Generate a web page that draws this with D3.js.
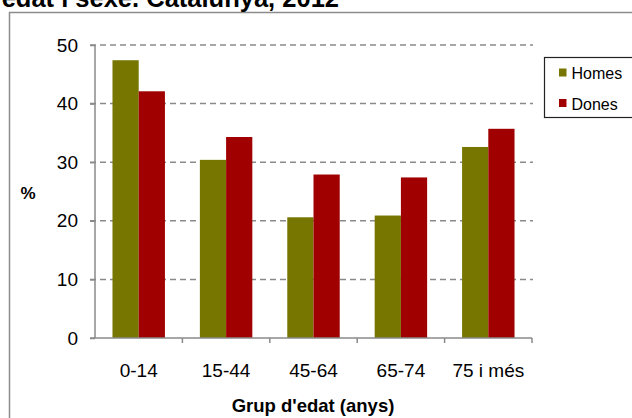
<!DOCTYPE html>
<html>
<head>
<meta charset="utf-8">
<script src="https://cdn.jsdelivr.net/npm/d3@7"></script>
<style>
  html, body { margin: 0; padding: 0; background: #fff; }
  svg { display: block; font-family: "Liberation Sans", Arial, sans-serif; }
</style>
</head>
<body>
<svg id="chart" width="632" height="418"></svg>
<script>
// Age groups and percentage by sex
const groups = ["0-14", "15-44", "45-64", "65-74", "75 i més"];
const homes = [47.4, 30.4, 20.6, 20.9, 32.6];
const dones = [42.1, 34.3, 27.9, 27.4, 35.7];
const seriesNames = ["Homes", "Dones"];
const seriesColors = ["#767600", "#a00000"];
const yTicks = [0, 10, 20, 30, 40, 50];

const rows = groups.map((g, i) => ({ group: g, values: [homes[i], dones[i]] }));

const FONT = "Liberation Sans, Arial, sans-serif";
const svg = d3.select("#chart");
const margin = { left: 95, top: 45 };
const plotW = 532 - margin.left;
const plotH = 338 - margin.top;

// Outer frame
svg.append("rect")
  .attr("x", 9.5).attr("y", 12.5)
  .attr("width", 640).attr("height", 420)
  .attr("fill", "none").attr("stroke", "#8c8c8c").attr("stroke-width", 1.5);

// Title (runs past the top-left edge)
svg.append("text")
  .attr("x", 339).attr("y", 7)
  .attr("text-anchor", "end")
  .attr("font-size", 25.5).attr("font-weight", "bold").attr("fill", "#000")
  .text("edat i sexe. Catalunya, 2012");

const g = svg.append("g").attr("transform", `translate(${margin.left},${margin.top})`);

const x0 = d3.scaleBand().domain(groups).range([0, plotW]).paddingInner(0.4).paddingOuter(0.2);
const x1 = d3.scaleBand().domain(seriesNames).range([0, x0.bandwidth()]);
const xAxisScale = d3.scaleBand().domain(groups).range([0, plotW]);
const y = d3.scaleLinear().domain([0, 50]).range([plotH, 0]);

// Gridlines
g.append("g").selectAll("line")
  .data(yTicks.filter(d => d > 0))
  .join("line")
  .attr("x1", -5).attr("x2", plotW + 1)
  .attr("y1", d => y(d)).attr("y2", d => y(d))
  .attr("stroke", "#8a8a8a").attr("stroke-width", 1.5)
  .attr("stroke-dasharray", "6,4");

// Bars
const grp = g.append("g").selectAll("g")
  .data(rows)
  .join("g")
  .attr("transform", d => `translate(${x0(d.group)},0)`);

grp.selectAll("rect")
  .data(d => d.values.map((v, i) => ({ name: seriesNames[i], v, c: seriesColors[i] })))
  .join("rect")
  .attr("x", d => x1(d.name))
  .attr("y", d => y(d.v))
  .attr("width", x1.bandwidth())
  .attr("height", d => y(0) - y(d.v))
  .attr("fill", d => d.c);

// Y axis
const yAxis = g.append("g")
  .call(d3.axisLeft(y).tickValues(yTicks).tickSize(5).tickPadding(12).tickFormat(d3.format("d")));
yAxis.select(".domain").attr("stroke", "#8a8a8a").attr("stroke-width", 1.5).attr("d", `M0,${plotH}V0`);
yAxis.selectAll(".tick line").attr("stroke", "#8a8a8a").attr("stroke-width", 1.5);
yAxis.selectAll(".tick text").attr("font-size", 19).attr("fill", "#000").attr("font-family", FONT);

// X axis
const xAxis = g.append("g")
  .attr("transform", `translate(0,${plotH})`)
  .call(d3.axisBottom(xAxisScale).tickSize(0).tickPadding(25.5));
xAxis.select(".domain").attr("stroke", "#8a8a8a").attr("stroke-width", 1.5).attr("d", `M-5,0H${plotW}`);
xAxis.selectAll(".tick text").attr("font-size", 19).attr("fill", "#000").attr("font-family", FONT);

// X tick marks at category boundaries
g.append("g").selectAll("line")
  .data(groups.map((d, i) => i + 1))
  .join("line")
  .attr("x1", i => i * xAxisScale.step()).attr("x2", i => i * xAxisScale.step())
  .attr("y1", plotH).attr("y2", plotH + 5)
  .attr("stroke", "#8a8a8a").attr("stroke-width", 1.5);

// Axis titles
svg.append("text")
  .attr("x", 313).attr("y", 412)
  .attr("text-anchor", "middle")
  .attr("font-size", 18.5).attr("font-weight", "bold")
  .text("Grup d'edat (anys)");

svg.append("text")
  .attr("x", 28).attr("y", 199)
  .attr("text-anchor", "middle")
  .attr("font-size", 17).attr("font-weight", "bold")
  .text("%");

// Legend
const lg = svg.append("g").attr("transform", "translate(544.5,57.5)");
lg.append("rect")
  .attr("width", 100).attr("height", 60)
  .attr("fill", "#fff").attr("stroke", "#222").attr("stroke-width", 1.2);
const items = lg.selectAll("g.item")
  .data(seriesNames)
  .join("g").attr("class", "item")
  .attr("transform", (d, i) => `translate(0,${15 + i * 30.5})`);
items.append("rect")
  .attr("x", 14.5).attr("y", -4).attr("width", 7.5).attr("height", 8)
  .attr("fill", (d, i) => seriesColors[i]);
items.append("text")
  .attr("x", 27).attr("y", 6.5)
  .attr("font-size", 16).attr("fill", "#000")
  .text(d => d);
</script>
</body>
</html>
